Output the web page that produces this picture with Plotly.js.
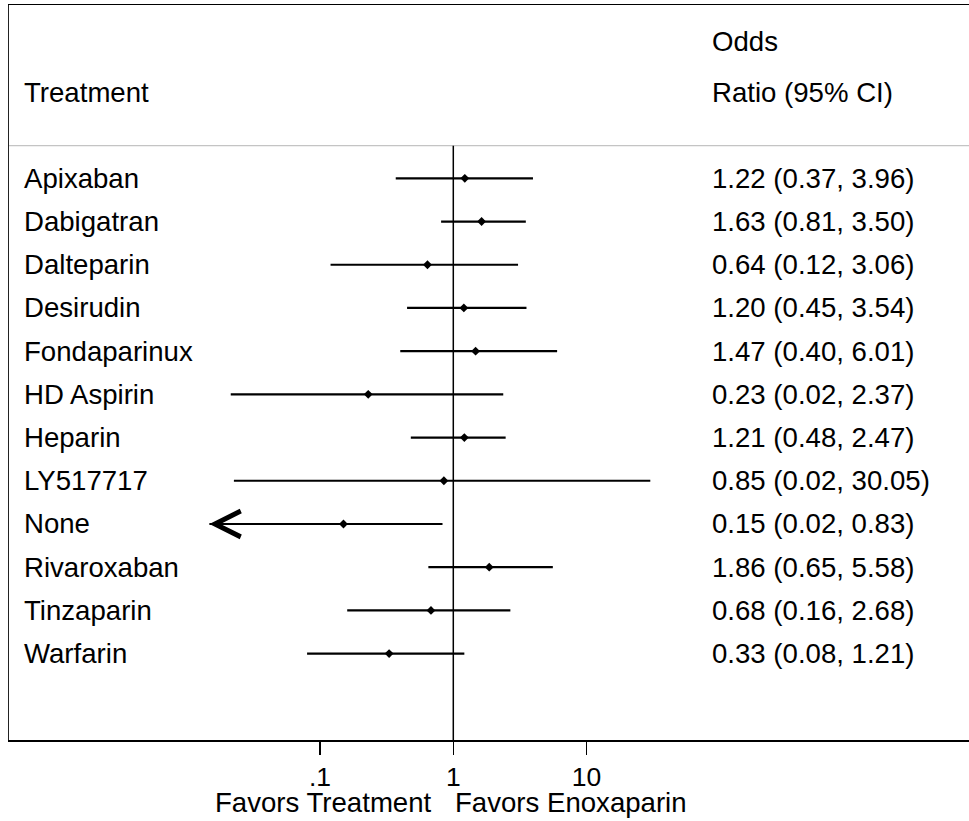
<!DOCTYPE html>
<html>
<head>
<meta charset="utf-8">
<script src="https://cdn.plot.ly/plotly-3.0.1.min.js"></script>
<style>
  html, body { margin: 0; padding: 0; background: #fff; overflow: hidden; }
  #chart { width: 990px; height: 821px; }
</style>
</head>
<body>
<div id="chart"></div>
<script>
// ---- data ----
const treatments = ["Apixaban", "Dabigatran", "Dalteparin", "Desirudin", "Fondaparinux",
  "HD Aspirin", "Heparin", "LY517717", "None", "Rivaroxaban", "Tinzaparin", "Warfarin"];
const oddsRatio = [1.22, 1.63, 0.64, 1.20, 1.47, 0.23, 1.21, 0.85, 0.15, 1.86, 0.68, 0.33];
const ciLower   = [0.37, 0.81, 0.12, 0.45, 0.40, 0.0214, 0.48, 0.0226, 0.0145, 0.65, 0.16, 0.08];
const ciUpper   = [3.96, 3.50, 3.06, 3.54, 6.01, 2.37, 2.47, 30.05, 0.83, 5.58, 2.68, 1.21];
const ciLabels  = ["1.22 (0.37, 3.96)", "1.63 (0.81, 3.50)", "0.64 (0.12, 3.06)", "1.20 (0.45, 3.54)",
  "1.47 (0.40, 6.01)", "0.23 (0.02, 2.37)", "1.21 (0.48, 2.47)", "0.85 (0.02, 30.05)",
  "0.15 (0.02, 0.83)", "1.86 (0.65, 5.58)", "0.68 (0.16, 2.68)", "0.33 (0.08, 1.21)"];
const tickVals  = [0.1, 1, 10];
const tickText  = [".1", "1", "10"];
const nullValue = 1;        // reference line: odds ratio of 1
const clipMin   = 0.0148;   // lower display limit of the CI lines (arrow beyond)
const headerLeft = "Treatment";
const headerRight1 = "Odds";
const headerRight2 = "Ratio (95% CI)";
const favorsLeft = "Favors Treatment";
const favorsRight = "Favors Enoxaparin";

// ---- build traces ----
const FONT = "Liberation Sans, Arial, Helvetica, sans-serif";
const FS = 27.6;
const W = 990, L = 9;          // figure is wider than the window: the frame's right side runs off the picture
const px = p => (p - L) / (W - L);   // left-edge pixel -> paper fraction
const rows = treatments.map((_, i) => i);
const yBottom = 13.0, yTop = -4.012, ySep = -0.757;

const lx = [], ly = [];
const annotations = [];
treatments.forEach((t, i) => {
  const lo = Math.max(ciLower[i], clipMin);
  lx.push(lo, ciUpper[i], null);
  ly.push(i, i, null);
  if (ciLower[i] < clipMin) {
    annotations.push({
      x: Math.log10(clipMin), y: i, xref: "x", yref: "y",
      text: "", showarrow: true, ax: 25, ay: 0,
      arrowhead: 5, arrowsize: 2.3, arrowwidth: 2.2, arrowcolor: "#000", standoff: 0
    });
  }
  annotations.push({
    x: px(22), y: i, xref: "paper", yref: "y", xanchor: "left", yanchor: "middle",
    text: t, showarrow: false, font: {family: FONT, size: FS, color: "#000"}
  });
  annotations.push({
    x: px(709.5), y: i, xref: "paper", yref: "y", xanchor: "left", yanchor: "middle",
    text: ciLabels[i], showarrow: false, font: {family: FONT, size: FS, color: "#000"}
  });
});

annotations.push(
  {x: px(22), y: 0.8811, xref: "paper", yref: "paper", xanchor: "left", yanchor: "middle",
   text: headerLeft, showarrow: false, font: {family: FONT, size: FS, color: "#000"}},
  {x: px(709.5), y: 0.9505, xref: "paper", yref: "paper", xanchor: "left", yanchor: "middle",
   text: headerRight1, showarrow: false, font: {family: FONT, size: FS, color: "#000"}},
  {x: px(709.5), y: 0.8811, xref: "paper", yref: "paper", xanchor: "left", yanchor: "middle",
   text: headerRight2, showarrow: false, font: {family: FONT, size: FS, color: "#000"}},
  {x: 0, y: -0.0855, xref: "x", yref: "paper", xanchor: "right", yanchor: "middle", xshift: -19,
   text: favorsLeft, showarrow: false, font: {family: FONT, size: FS, color: "#000"}},
  {x: 0, y: -0.0855, xref: "x", yref: "paper", xanchor: "left", yanchor: "middle", xshift: 0,
   text: favorsRight, showarrow: false, font: {family: FONT, size: FS, color: "#000"}}
);

const refTrace = {
  type: "scatter", mode: "lines", x: [nullValue, nullValue], y: [ySep, yBottom],
  line: {color: "#000", width: 1.5}, hoverinfo: "skip", showlegend: false, cliponaxis: false
};
const ciTrace = {
  type: "scatter", mode: "lines", x: lx, y: ly,
  line: {color: "#000", width: 2.2}, hoverinfo: "skip", showlegend: false
};
const ptTrace = {
  type: "scatter", mode: "markers", x: oddsRatio, y: rows,
  marker: {symbol: "diamond", size: 6.8, color: "#000"}, showlegend: false
};

// log10 range: 1 at pixel 453.3, one decade = 133.3 px
const xLeft = (L - 453.3) / 133.3, xRight = (W - 453.3) / 133.3;

const layout = {
  width: W, height: 821,
  margin: {l: L, r: 0, t: 5, b: 81},
  paper_bgcolor: "#fff", plot_bgcolor: "#fff",
  showlegend: false,
  xaxis: {
    type: "log", range: [xLeft, xRight],
    showline: true, mirror: true, linecolor: "#000", linewidth: 1.5,
    ticks: "outside", ticklen: 13, tickwidth: 1.5, tickcolor: "#000",
    tickvals: tickVals, ticktext: tickText,
    tickfont: {family: FONT, size: 26.5, color: "#000"},
    showgrid: false, zeroline: false, fixedrange: true
  },
  yaxis: {
    range: [yBottom, yTop], showline: true, linecolor: "#222", linewidth: 1.3,
    showticklabels: false, ticks: "", showgrid: false, zeroline: false, fixedrange: true
  },
  shapes: [
    {type: "line", xref: "paper", yref: "y", x0: 0, x1: 1, y0: ySep, y1: ySep,
     line: {color: "#c4c4c4", width: 1.2}, layer: "below"}
  ],
  annotations: annotations
};

Plotly.newPlot("chart", [refTrace, ciTrace, ptTrace], layout, {displayModeBar: false, staticPlot: true});
</script>
</body>
</html>
